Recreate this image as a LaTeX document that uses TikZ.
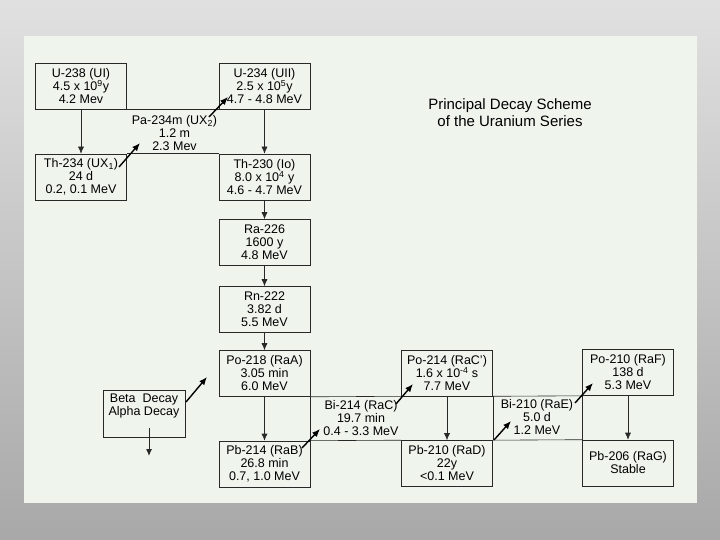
\documentclass[tikz,border=0pt]{standalone}
\usepackage{fontspec}
\setmainfont{Liberation Sans}
\usetikzlibrary{arrows.meta}
\definecolor{paper}{RGB}{239,244,237}
\definecolor{ink}{RGB}{40,40,40}
\newcommand\chartfont{\fontsize{12.5}{13}\selectfont\lineskiplimit=-10pt\relax}

\begin{document}
\begin{tikzpicture}[x=1pt,y=-1pt,
  box/.style={draw=ink,line width=0.6pt,minimum width=91pt,minimum height=46pt,inner sep=0pt,align=center,font=\chartfont},
  mid/.style={inner sep=0pt,align=center,font=\chartfont},
  edge/.style={draw=ink,line width=0.6pt},
  alpha/.style={draw=ink,line width=0.6pt,-{Latex[length=7pt,width=6pt]}},
  beta/.style={draw=black,line width=1.4pt,-{Latex[length=8pt,width=6.5pt]}}]

\shade[top color=black!12,bottom color=black!34] (0,0) rectangle (720,540);
\fill[paper] (24,36) rectangle (697,503);

\node[box] (u238) at (81,86.5) {U-238 (UI)\\4.5 x 10\textsuperscript{9}y\\4.2 Mev};
\node[box] (th234) at (81,177) {Th-234 (UX\textsubscript{1})\\24 d\\0.2, 0.1 MeV};
\node[box] (u234) at (264.5,86.5) {U-234 (UII)\\2.5 x 10\textsuperscript{5}y\\4.7 - 4.8 MeV};
\node[box] (th230) at (264.5,177) {Th-230 (Io)\\8.0 x 10\textsuperscript{4} y\\4.6 - 4.7 MeV};
\node[box] (ra226) at (264.5,242.5) {Ra-226\\1600 y\\4.8 MeV};
\node[box] (rn222) at (264.5,309.5) {Rn-222\\3.82 d\\5.5 MeV};
\node[box] (po218) at (264.5,373.5) {Po-218 (RaA)\\3.05 min\\6.0 MeV};
\node[box] (pb214) at (264.5,464) {Pb-214 (RaB)\\26.8 min\\0.7, 1.0 MeV};
\node[box] (po214) at (447,373) {Po-214 (RaC')\\1.6 x 10\textsuperscript{-4} s\\7.7 MeV};
\node[box] (pb210) at (447,463.5) {Pb-210 (RaD)\\22y\\<0.1 MeV};
\node[box] (po210) at (628,372.5) {Po-210 (RaF)\\138 d\\5.3 MeV};
\node[box] (pb206) at (628,463) {Pb-206 (RaG)\\Stable};
\node[box,minimum width=82pt,minimum height=47pt] (legend) at (144,413.5) {Beta\ \ Decay\\Alpha Decay\\\strut};

\node[mid] (pa234) at (174.5,133) {Pa-234m (UX\textsubscript{2})\\1.2 m\\2.3 Mev};
\node[mid] (bi214) at (361,418) {Bi-214 (RaC)\\19.7 min\\0.4 - 3.3 MeV};
\node[mid] (bi210) at (537,417) {Bi-210 (RaE)\\5.0 d\\1.2 MeV};

\node[align=center,font=\fontsize{15}{17}\selectfont] (title) at (510,113) {Principal Decay Scheme\\of the Uranium Series};

\draw[edge] (u238.south east) -- (u234.south west);
\draw[edge] (th234.north east) -- (th230.north west);
\draw[edge] (po218.south east) -- (po214.south west);
\draw[edge] (pb214.north east) -- (pb210.north west);
\draw[edge] (po218.south east) -- (pb214.north east);
\draw[edge] (po214.south east) -- (po210.south west);
\draw[edge] (pb210.north east) -- (pb206.north west);
\draw[edge] (po214.south east) -- (pb210.north east);
\draw[edge] (po210.south west) -- (pb206.north west);

\draw[alpha] (u238) -- (th234);
\draw[alpha] (u234) -- (th230);
\draw[alpha] (th230) -- (ra226);
\draw[alpha] (ra226) -- (rn222);
\draw[alpha] (rn222) -- (po218);
\draw[alpha] (po218) -- (pb214);
\draw[alpha] (po214) -- (pb210);
\draw[alpha] (po210) -- (pb206);

\coordinate (th234out) at (119,167);
\coordinate (pa234in) at (140,143);
\coordinate (pa234out) at (209,117);
\coordinate (u234in) at (228,97);
\coordinate (pb214out) at (302,448);
\coordinate (bi214in) at (320,429);
\coordinate (bi214out) at (396,404);
\coordinate (po214in) at (413,384);
\coordinate (pb210out) at (494,440);
\coordinate (bi210in) at (511,421);
\coordinate (bi210out) at (575,403);
\coordinate (po210in) at (593,383);
\coordinate (betaout) at (186,402);
\coordinate (betatip) at (207,377);
\coordinate (alphaout) at (149,428);
\coordinate (alphatip) at (149,456);

\draw[beta] (th234out) -- (pa234in);
\draw[beta] (pa234out) -- (u234in);
\draw[beta] (pb214out) -- (bi214in);
\draw[beta] (bi214out) -- (po214in);
\draw[beta] (pb210out) -- (bi210in);
\draw[beta] (bi210out) -- (po210in);
\draw[beta] (betaout) -- (betatip);
\draw[alpha,line width=1pt] (alphaout) -- (alphatip);

\end{tikzpicture}
\end{document}
